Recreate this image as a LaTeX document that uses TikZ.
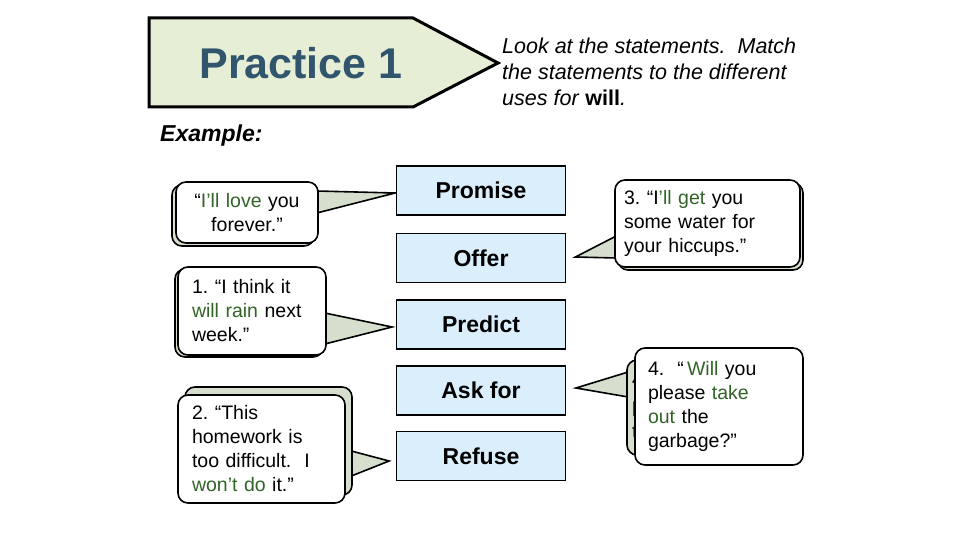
\documentclass[tikz,border=0pt]{standalone}
\usepackage{fontspec}
\setmainfont{Liberation Sans}
\usepackage{xcolor}
\usepackage{tikz}
\usetikzlibrary{positioning,calc,shadows}
\definecolor{tagfill}{RGB}{230,238,214}
\definecolor{tagblue}{RGB}{50,85,110}
\definecolor{boxblue}{RGB}{219,238,252}
\definecolor{callgrey}{RGB}{214,222,206}
\definecolor{saygreen}{RGB}{50,100,40}
\newcommand{\grn}[1]{\textcolor{saygreen}{#1}}
\pgfdeclarelayer{background}
\pgfsetlayers{background,main}
\frenchspacing

\begin{document}
\begin{tikzpicture}[x=1pt, y=-1pt,
    usebox/.style={draw, line width=1.8pt, fill=boxblue, minimum width=169pt, minimum height=49pt, font=\fontsize{23}{26}\selectfont\bfseries},
    saybox/.style={draw, line width=1.6pt, fill=white, rounded corners=10pt, inner ysep=0pt, align=left, font=\fontsize{19.5}{24}\selectfont},
    sayshadow/.style={copy shadow={fill=callgrey, draw=black, line width=1.6pt, #1}},
    pointer/.style={draw, line width=1.6pt, fill=callgrey, line join=miter}]
    \useasboundingbox (0,0) rectangle (960,540);
    % title tag and task
    \draw[line width=3pt, line join=miter, fill=tagfill] (149,18) -- (413,18) -- (498,63) -- (413,107) -- (149,107) -- cycle;
    \node[tagblue, font=\fontsize{43}{48}\selectfont\bfseries] (tag) at (301,63) {Practice 1};
    \node[anchor=base west, align=left, inner sep=0pt, font=\fontsize{21.5}{26}\selectfont\itshape] (task) at (502,106) {Look at the statements.\ \ Match\\ the statements to the different\\ uses for \textup{\bfseries will}.};
    \node[anchor=west, inner sep=0pt, font=\fontsize{23}{26}\selectfont\bfseries\itshape] (exlbl) at (160,136) {Example:};
    % uses of will
    \foreach \name/\lbl/\y in {prom/Promise/190.5, offr/Offer/258, pred/Predict/324.5, askf/Ask for/390.5, refu/Refuse/456}
        {\node[usebox] (\name) at (481,\y) {\lbl};}
    % statements
    \node[saybox, sayshadow={shadow xshift=-4pt, shadow yshift=-3pt}, align=center, text width=122pt, inner xsep=10pt, minimum height=61pt] (ex) at (247,212.5) {“\grn{I’ll love} you\\ forever.”};
    \node[saybox, sayshadow={shadow xshift=-3pt, shadow yshift=-2pt}, text width=120pt, inner xsep=14pt, minimum height=88pt] (one) at (252,311) {1. “I think it\\ \grn{will rain} next\\ week.”};
    \node[saybox, sayshadow={shadow xshift=7pt, shadow yshift=8pt}, text width=139pt, inner xsep=14pt, minimum height=108pt] (two) at (261.5,449) {2. “This\\ homework is\\ too difficult.\ \ I\\ \grn{won’t do} it.”};
    \node[saybox, sayshadow={shadow xshift=3pt, shadow yshift=-3pt}, text width=167pt, inner xsep=9pt, minimum height=87pt] (three) at (707.5,223.5) {3. “I\grn{’ll get} you\\ some water for\\ your hiccups.”};
    \node[saybox, fill=callgrey, text width=153pt, inner xsep=5pt, minimum height=95pt, font=\fontsize{20}{26}\selectfont] (fourb) at (708.5,407.5) {4. “Will you\\ please take out\\ the garbage?”};
    \node[saybox, text width=142pt, inner xsep=13pt, minimum height=117pt] (four) at (719,406.5) {4.\ \ “\,\grn{Will} you\\ please \grn{take}\\ \grn{out} the\\ garbage?”};
    % pointers
    \begin{pgfonlayer}{background}
        \draw[pointer] ($(ex.east)+(-2,-21.5)$) -- ($(prom.west)+(-0.5,2.5)$) -- ($(ex.east)+(-2,0.5)$);
        \draw[pointer] ($(one.east)+(-2,2)$) -- ($(pred.west)+(-3.5,2.5)$) -- ($(one.east)+(-2,33)$);
        \draw[pointer] ($(two.east)+(-2,0)$) -- ($(refu.west)+(-6.5,5)$) -- ($(two.east)+(-2,30)$);
        \draw[pointer] ($(three.west)+(2,12.5)$) -- ($(offr.east)+(9,-1)$) -- ($(three.west)+(2,34.5)$);
        \draw[pointer] ($(fourb.west)+(2,-35.5)$) -- ($(askf.east)+(9.5,-2.5)$) -- ($(fourb.west)+(2,-10.5)$);
    \end{pgfonlayer}
\end{tikzpicture}
\end{document}
